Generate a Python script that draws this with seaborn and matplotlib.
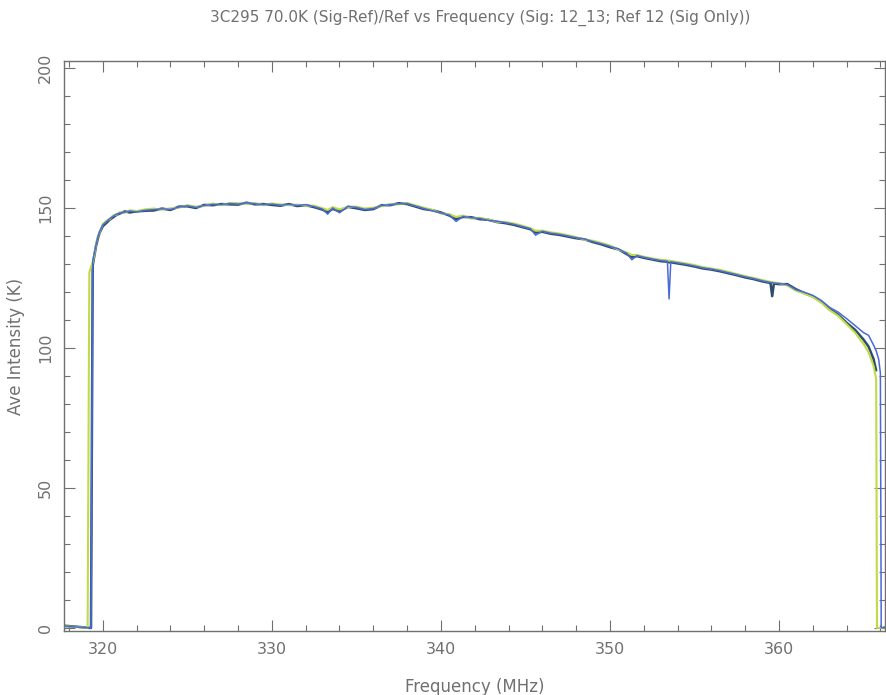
import matplotlib
matplotlib.use("Agg")
import matplotlib.pyplot as plt
from matplotlib.ticker import MultipleLocator
import seaborn as sns
import pandas as pd

# ---- data ----
freq = [
    317.7, 318.5, 319.1, 319.2, 319.3, 319.4, 319.5, 319.6, 319.7, 319.8,
    320.0, 320.2, 320.4, 320.6, 320.8, 321.0, 321.3, 321.6, 322.0, 322.5,
    323.0, 323.5, 324.0, 324.5, 325.0, 325.5, 326.0, 326.5, 327.0, 327.5,
    328.0, 328.5, 329.0, 329.5, 330.0, 330.5, 331.0, 331.5, 332.0, 332.5,
    333.0, 333.3, 333.6, 334.0, 334.5, 335.0, 335.5, 336.0, 336.5, 337.0,
    337.5, 338.0, 338.5, 339.0, 339.5, 340.0, 340.5, 340.9, 341.3, 341.8,
    342.3, 342.8, 343.3, 343.8, 344.3, 344.8, 345.3, 345.6, 346.0, 346.5,
    347.0, 347.5, 348.0, 348.5, 349.0, 349.5, 350.0, 350.5, 351.0, 351.3,
    351.6, 352.0, 352.5, 353.0, 353.4, 353.5, 353.6, 354.0, 354.5, 355.0,
    355.5, 356.0, 356.5, 357.0, 357.5, 358.0, 358.5, 359.0, 359.5, 359.6,
    359.7, 360.0, 360.5, 361.0, 361.5, 362.0, 362.5, 363.0, 363.5, 364.0,
    364.5, 365.0, 365.3, 365.6, 365.75, 365.8, 365.9, 366.0, 366.05, 366.27,
]

blue = [
    0.6, 0.3, 0.0, 0.0, 0.0, 131.0, 134.0, 137.0, 139.5, 141.5,
    144.0, 145.0, 146.2, 147.0, 147.8, 148.2, 148.5, 148.9, 148.6, 149.2,
    149.4, 149.7, 149.5, 150.3, 150.8, 150.2, 150.9, 151.3, 151.2, 151.6,
    151.4, 151.8, 151.5, 151.2, 151.4, 151.0, 151.3, 150.9, 151.2, 150.5,
    149.6, 147.8, 150.0, 148.3, 150.6, 150.2, 149.5, 149.8, 150.9, 151.2,
    151.5, 151.6, 150.7, 149.8, 149.0, 148.2, 147.5, 145.2, 147.0, 146.5,
    146.3, 145.6, 145.3, 144.8, 144.2, 143.4, 142.6, 140.3, 141.7, 141.0,
    140.6, 140.0, 139.4, 138.9, 138.0, 137.2, 136.3, 135.4, 133.8, 131.5,
    133.0, 132.4, 131.8, 131.2, 131.0, 117.5, 130.8, 130.4, 129.9, 129.3,
    128.6, 128.2, 127.6, 126.9, 126.2, 125.4, 124.8, 124.0, 123.4, 123.3,
    123.2, 123.0, 122.6, 120.8, 119.9, 118.8, 117.0, 114.5, 112.8, 110.5,
    108.0, 105.5, 104.5, 101.0, 99.0, 98.0, 96.0, 91.0, 0.0, 0.3,
]

green = [
    0.6, 0.3, 0.0, 127.0, 129.0, 130.5, 133.5, 137.3, 139.8, 141.2,
    144.3, 145.4, 146.0, 147.3, 147.6, 148.5, 148.3, 149.2, 148.9, 149.5,
    149.8, 149.4, 149.9, 150.1, 151.0, 150.5, 150.7, 151.6, 151.0, 151.8,
    151.7, 151.5, 151.8, 151.0, 151.6, 151.3, 151.0, 151.2, 150.9, 150.8,
    149.9, 149.3, 150.3, 149.5, 150.4, 150.5, 149.8, 150.1, 150.7, 151.4,
    151.3, 151.8, 150.9, 150.1, 149.3, 148.0, 147.8, 146.8, 147.3, 146.2,
    146.5, 145.9, 145.1, 145.0, 144.5, 143.7, 142.8, 141.9, 141.9, 141.3,
    140.9, 140.3, 139.6, 138.7, 138.3, 137.5, 136.6, 135.1, 134.1, 133.2,
    133.2, 132.6, 132.0, 131.5, 131.3, 131.2, 131.1, 130.7, 130.2, 129.6,
    128.9, 128.4, 127.9, 127.2, 126.4, 125.7, 125.0, 124.3, 123.6, 123.5,
    123.4, 123.2, 122.3, 120.5, 119.4, 118.2, 116.2, 113.5, 111.5, 108.5,
    105.5, 101.5, 98.5, 93.5, 89.0, 0.0, 0.0, 0.0, 0.0, 0.3,
]

dark = [
    0.8, 0.4, 0.1, 0.0, 0.0, 129.5, 133.0, 136.5, 139.0, 141.0,
    143.5, 144.6, 145.8, 146.6, 147.5, 148.0, 148.8, 148.4, 148.8, 149.0,
    149.1, 149.8, 149.3, 150.5, 150.6, 150.0, 151.1, 151.0, 151.4, 151.3,
    151.2, 151.9, 151.3, 151.4, 151.1, 150.8, 151.4, 150.7, 151.0, 150.3,
    149.4, 148.5, 149.7, 148.8, 150.4, 149.9, 149.3, 149.6, 151.0, 151.0,
    151.7, 151.4, 150.5, 149.6, 149.2, 148.4, 147.3, 146.0, 146.8, 146.7,
    146.0, 145.8, 145.0, 144.6, 144.0, 143.2, 142.4, 141.2, 141.5, 140.8,
    140.4, 139.8, 139.2, 138.8, 137.8, 137.0, 136.0, 135.2, 133.5, 132.4,
    132.8, 132.2, 131.6, 131.0, 130.8, 130.6, 130.6, 130.2, 129.7, 129.1,
    128.4, 128.0, 127.4, 126.7, 126.0, 125.2, 124.6, 123.8, 123.2, 118.5,
    123.0, 122.8, 122.8, 121.0, 119.6, 118.4, 116.5, 113.8, 111.9, 109.0,
    106.5, 103.0, 100.5, 96.0, 92.0,
]

title = "3C295 70.0K (Sig-Ref)/Ref vs Frequency (Sig: 12_13; Ref 12 (Sig Only))"
xlabel = "Frequency (MHz)"
ylabel = "Ave Intensity (K)"
xticks = [320, 330, 340, 350, 360]
yticks = [0, 50, 100, 150, 200]

# ---- styling ----
sns.set_style("white")
plt.rcParams["font.family"] = ["DejaVu Sans"]
txt = "#707070"
axc = "#707070"

fig = plt.figure(figsize=(8.86, 6.95), dpi=100)
ax = fig.add_axes([0.0722, 0.0921, 0.9266, 0.8201])

df_b = pd.DataFrame({"f": freq, "v": blue})
df_g = pd.DataFrame({"f": freq, "v": green})
df_d = pd.DataFrame({"f": freq[:len(dark)], "v": dark})

sns.lineplot(data=df_d, x="f", y="v", ax=ax, color="#2e4d6b", lw=1.8,
             estimator=None, sort=False)
sns.lineplot(data=df_g, x="f", y="v", ax=ax, color="#bfdc48", lw=1.5,
             estimator=None, sort=False)
sns.lineplot(data=df_b, x="f", y="v", ax=ax, color="#4a6ad8", lw=1.1,
             estimator=None, sort=False)

ax.set_xlim(317.7, 366.27)
ax.set_ylim(-1.1, 202.5)

ax.xaxis.set_major_locator(MultipleLocator(10))
ax.xaxis.set_minor_locator(MultipleLocator(2))
ax.yaxis.set_major_locator(MultipleLocator(50))
ax.yaxis.set_minor_locator(MultipleLocator(10))
ax.set_xticks(xticks)
ax.set_yticks(yticks)
ax.set_xticklabels([str(t) for t in xticks])
ax.set_yticklabels([str(t) for t in yticks], rotation=90, va="center")

ax.tick_params(which="both", direction="in", top=True, right=True,
               bottom=True, left=True, color=axc, width=0.8,
               labelcolor=txt, labelsize=11.5)
ax.tick_params(which="major", length=8)
ax.tick_params(which="minor", length=4)
ax.tick_params(axis="x", pad=8)
ax.tick_params(axis="y", pad=8)

for s in ax.spines.values():
    s.set_color(axc)
    s.set_linewidth(1.0)

ax.set_xlabel(xlabel, color=txt, fontsize=12)
ax.set_ylabel(ylabel, color=txt, fontsize=12)
ax.xaxis.set_label_coords(0.5, -0.082)
ax.yaxis.set_label_coords(-0.047, 0.5)

fig.text(0.542, 0.974, title, ha="center", va="center", color=txt,
         fontsize=11)

fig.savefig("out.png", dpi=100)
